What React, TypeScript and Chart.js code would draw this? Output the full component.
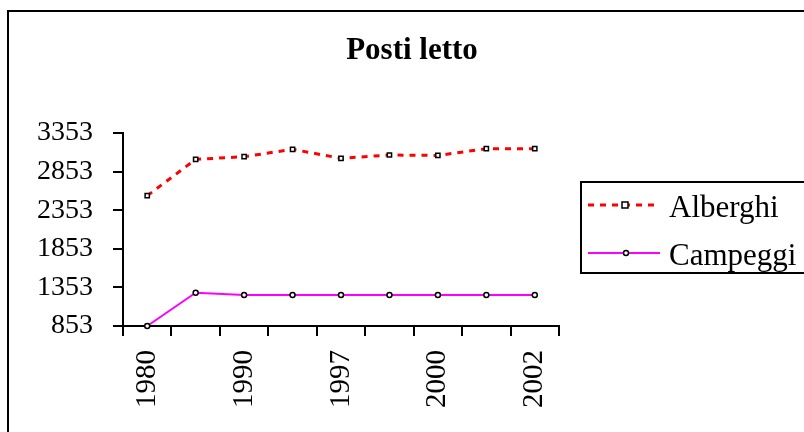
import React, { useEffect, useRef } from "react";
import { Chart, registerables } from "chart.js";

Chart.register(...registerables);

const chartTitle = "Posti letto";
const years = ["1980", "1985", "1990", "1995", "1997", "1998", "2000", "2001", "2002"];
const shownYearIndexes = [0, 2, 4, 6, 8];
const alberghi = [2541, 3012, 3046, 3142, 3025, 3068, 3062, 3150, 3150];
const campeggi = [853, 1284, 1254, 1254, 1254, 1254, 1254, 1254, 1254];
const yTicks = [853, 1353, 1853, 2353, 2853, 3353];
const seriesNames = ["Alberghi", "Campeggi"];

const FONT = "'Liberation Serif', 'Times New Roman', serif";

export default function App() {
  const ref = useRef<HTMLCanvasElement | null>(null);

  useEffect(() => {
    document.body.style.margin = "0";
    const canvas = ref.current;
    if (!canvas) return;

    const decor = {
      id: "decor",
      afterDraw(chart: any) {
        const ctx = chart.ctx as CanvasRenderingContext2D;
        ctx.save();
        // outer frame
        ctx.strokeStyle = "#000";
        ctx.lineWidth = 2;
        ctx.setLineDash([]);
        ctx.strokeRect(8, 11, 1000, 600);
        // title
        ctx.fillStyle = "#000";
        ctx.font = `bold 31px ${FONT}`;
        ctx.textAlign = "center";
        ctx.textBaseline = "alphabetic";
        ctx.fillText(chartTitle, 412, 59);
        // legend box
        ctx.lineWidth = 2;
        ctx.strokeRect(581, 182, 400, 91);
        const rows = [
          { y: 205, ds: chart.data.datasets[0], text: 217 },
          { y: 253, ds: chart.data.datasets[1], text: 265 },
        ];
        rows.forEach((r, i) => {
          ctx.save();
          ctx.strokeStyle = r.ds.borderColor;
          ctx.lineWidth = r.ds.borderWidth;
          ctx.setLineDash(r.ds.borderDash || []);
          ctx.beginPath();
          ctx.moveTo(588, r.y);
          ctx.lineTo(660, r.y);
          ctx.stroke();
          ctx.setLineDash([]);
          ctx.fillStyle = "#fff";
          ctx.strokeStyle = "#000";
          ctx.lineWidth = 1.5;
          ctx.beginPath();
          if (i === 0) {
            ctx.rect(622, r.y - 3, 6, 6);
          } else {
            ctx.arc(626, r.y, 2.5, 0, Math.PI * 2);
          }
          ctx.fill();
          ctx.stroke();
          ctx.restore();
          ctx.fillStyle = "#000";
          ctx.font = `31px ${FONT}`;
          ctx.textAlign = "left";
          ctx.textBaseline = "alphabetic";
          ctx.fillText(seriesNames[i], 669, r.text);
        });
        ctx.restore();
      },
    };

    const chart = new Chart(canvas, {
      type: "line",
      data: {
        labels: years,
        datasets: [
          {
            label: seriesNames[0],
            data: alberghi,
            borderColor: "#ff0000",
            borderWidth: 3,
            borderDash: [6, 6],
            pointStyle: "rect",
            pointRadius: 3,
            pointBackgroundColor: "#fff",
            pointBorderColor: "#000",
            pointBorderWidth: 1.5,
            fill: false,
            tension: 0,
            clip: false,
          } as any,
          {
            label: seriesNames[1],
            data: campeggi,
            borderColor: "#ff00ff",
            borderWidth: 2,
            pointStyle: "circle",
            pointRadius: 2.5,
            pointBackgroundColor: "#fff",
            pointBorderColor: "#000",
            pointBorderWidth: 1.5,
            fill: false,
            tension: 0,
            clip: false,
          } as any,
        ],
      },
      options: {
        animation: false,
        responsive: false,
        devicePixelRatio: 1,
        layout: { padding: { left: 0, top: 133, right: 245, bottom: 0 } },
        plugins: {
          legend: { display: false },
          title: { display: false },
          tooltip: { enabled: false },
        },
        scales: {
          x: {
            type: "category",
            offset: true,
            grid: {
              offset: true,
              display: true,
              drawOnChartArea: false,
              drawTicks: true,
              tickLength: 10,
              color: "#000",
              lineWidth: 2,
            },
            border: { display: true, color: "#000", width: 2 },
            ticks: {
              autoSkip: false,
              maxRotation: 90,
              minRotation: 90,
              padding: 14,
              color: "#000",
              font: { family: FONT, size: 29 },
              callback: (_v: any, i: number) => (shownYearIndexes.includes(i) ? years[i] : ""),
            },
            afterFit: (s: any) => {
              s.height = 106;
            },
          },
          y: {
            type: "linear",
            min: 853,
            max: 3353,
            grid: {
              display: true,
              drawOnChartArea: false,
              drawTicks: true,
              tickLength: 10,
              color: "#000",
              lineWidth: 2,
            },
            border: { display: true, color: "#000", width: 2 },
            ticks: {
              padding: 20,
              color: "#000",
              font: { family: FONT, size: 28 },
              callback: (v: any) => String(v),
            },
            afterBuildTicks: (s: any) => {
              s.ticks = yTicks.map((v) => ({ value: v }));
            },
            afterFit: (s: any) => {
              s.width = 123;
            },
          },
        },
      } as any,
      plugins: [decor],
    });

    return () => chart.destroy();
  }, []);

  return (
    <div style={{ width: 804, height: 432 }}>
      <canvas ref={ref} width={804} height={432} />
    </div>
  );
}
